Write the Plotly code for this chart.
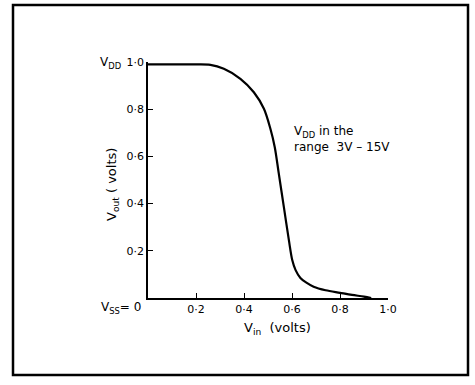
import plotly.graph_objects as go

# data
vin = [0.0, 0.10, 0.20, 0.26, 0.316, 0.385, 0.441, 0.483, 0.51, 0.528, 0.545, 0.566, 0.587, 0.601, 0.615, 0.635, 0.66, 0.69, 0.74, 0.80, 0.85, 0.90, 0.93]
vout = [0.99, 0.99, 0.99, 0.988, 0.971, 0.929, 0.872, 0.802, 0.717, 0.64, 0.527, 0.386, 0.245, 0.161, 0.118, 0.085, 0.065, 0.048, 0.033, 0.022, 0.013, 0.006, 0.0]

tick_vals = [0.2, 0.4, 0.6, 0.8, 1.0]
tick_text = ["0·2", "0·4", "0·6", "0·8", "1·0"]

FONT = "DejaVu Sans"
fig = go.Figure()
fig.add_trace(go.Scatter(x=vin, y=vout, mode="lines",
                         line=dict(color="black", width=2.2, shape="spline", smoothing=0.9),
                         cliponaxis=False, showlegend=False, hoverinfo="skip"))

L, R, T, B = 148, 87, 62, 87
W, H = 475, 385
pw, ph = W - L - R, H - T - B

def px(xp):
    return (xp - L) / pw

def py(yp):
    return (H - B - yp) / ph

axis_common = dict(showgrid=False, zeroline=False, showline=True, linecolor="black",
                   linewidth=1.6, ticks="inside", ticklen=5, tickwidth=1.4,
                   tickcolor="black", tickvals=tick_vals, ticktext=tick_text,
                   range=[0, 1], tickfont=dict(family=FONT, size=11, color="black"))
fig.update_xaxes(**axis_common)
fig.update_yaxes(**axis_common)

fig.update_layout(
    width=W, height=H, margin=dict(l=L, r=R, t=T, b=B),
    paper_bgcolor="white", plot_bgcolor="white",
    font=dict(family=FONT, size=11, color="black"),
    annotations=[
        dict(text="V<sub>out</sub> ( volts)", xref="paper", yref="paper",
             x=px(112), y=py(185), textangle=-90, showarrow=False,
             xanchor="center", yanchor="middle", font=dict(size=13)),
        dict(text="V<sub>in</sub>  (volts)", xref="paper", yref="paper",
             x=px(277), y=py(328), showarrow=False,
             xanchor="center", yanchor="middle", font=dict(size=13)),
        dict(text="V<sub>DD</sub>", xref="paper", yref="paper",
             x=px(123), y=py(63), showarrow=False,
             xanchor="right", yanchor="middle", font=dict(size=12)),
        dict(text="V<sub>SS</sub>= 0", xref="paper", yref="paper",
             x=px(143), y=py(308), showarrow=False,
             xanchor="right", yanchor="middle", font=dict(size=12)),
        dict(text="V<sub>DD</sub> in the<br>range  3V – 15V", xref="paper", yref="paper",
             x=px(292), y=py(122), showarrow=False, align="left",
             xanchor="left", yanchor="top", font=dict(size=12)),
    ],
    shapes=[
        dict(type="rect", xref="paper", yref="paper",
             x0=px(13), x1=px(468), y0=py(375), y1=py(5),
             line=dict(color="black", width=2.5)),
    ],
)

fig.write_html("out.html", config={"displayModeBar": False},
               post_script="document.body.style.margin='0px';")
